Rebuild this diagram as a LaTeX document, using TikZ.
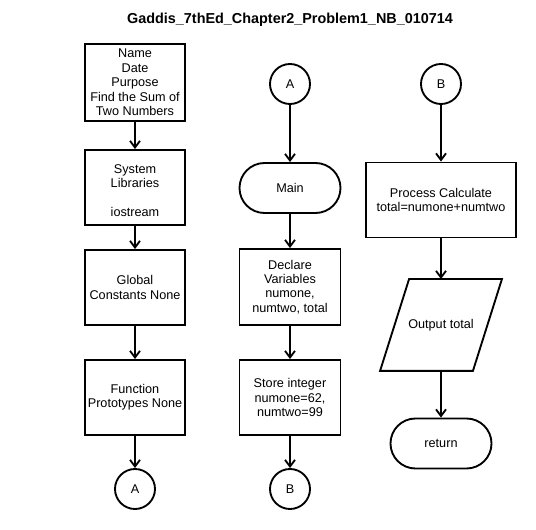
\documentclass[tikz,border=0pt]{standalone}
\usepackage{fontspec}
\setmainfont{Liberation Sans}
\usetikzlibrary{arrows.meta}

\begin{document}
\begin{tikzpicture}[x=0.75pt,y=-0.75pt,
  font=\fontsize{9.5}{10.8}\selectfont,
  box/.style={draw,line width=1.4pt,align=center,minimum width=75pt,inner sep=1pt},
  con/.style={draw,circle,line width=1.4pt,minimum size=30pt,inner sep=0pt},
  term/.style={draw,line width=1.4pt,rounded corners=18.75pt,minimum width=75.75pt,minimum height=37.5pt},
  flow/.style={line width=1.4pt,-{Straight Barb[length=5pt,width=7.5pt]}}]

\useasboundingbox (0,0) rectangle (536,530);

\node (title) at (290,20) {\bfseries\fontsize{10.8}{13}\selectfont Gaddis\_7thEd\_Chapter2\_Problem1\_NB\_010714};

% left column
\node [box,minimum height=57.75pt] (head) at (135,82.5) {Name\\Date\\Purpose\\Find the Sum of\\Two Numbers};
\node [box,minimum height=56.25pt] (libs) at (135,187.5) {\mbox{}\\System\\Libraries\\[10.8pt]iostream};
\node [box,minimum height=56.25pt] (glob) at (135,287.5) {Global\\Constants None};
\node [box,minimum height=56.25pt] (proto) at (135,397.5) {Function\\Prototypes None};
\node [con] (outA) at (135,489) {A};

% middle column
\node [con] (inA) at (290,84) {A};
\node [term] (main) at (290,188) {Main};
\node [box,minimum width=75.75pt,minimum height=57pt] (decl) at (290,287) {Declare\\Variables\\numone,\\numtwo, total};
\node [box,minimum width=75.75pt,minimum height=56.25pt] (store) at (290,397.5) {Store integer\\numone=62,\\numtwo=99};
\node [con] (outB) at (290,489) {B};

% right column
\node [con] (inB) at (441,84) {B};
\node [box,minimum width=112.5pt,minimum height=56.25pt] (calc) at (441,200) {Process Calculate\\total=numone+numtwo};
\node [minimum width=68.25pt,minimum height=67.5pt,outer sep=0.7pt] (disp) at (441,325) {Output total};
\draw[line width=1.4pt] ([xshift=10.875pt]disp.north west) -- ([xshift=10.875pt]disp.north east)
  -- ([xshift=-10.875pt]disp.south east) -- ([xshift=-10.875pt]disp.south west) -- cycle;
\node [term] (ret) at (441,443.5) {return};

\draw[flow] (head) -- (libs);
\draw[flow] (libs) -- (glob);
\draw[flow] (glob) -- (proto);
\draw[flow] (proto) -- (outA);

\draw[flow] (inA) -- (main);
\draw[flow] (main) -- (decl);
\draw[flow] (decl) -- (store);
\draw[flow] (store) -- (outB);

\draw[flow] (inB) -- (calc);
\draw[flow] (calc) -- (disp);
\draw[flow] (disp) -- (ret);

\end{tikzpicture}
\end{document}
